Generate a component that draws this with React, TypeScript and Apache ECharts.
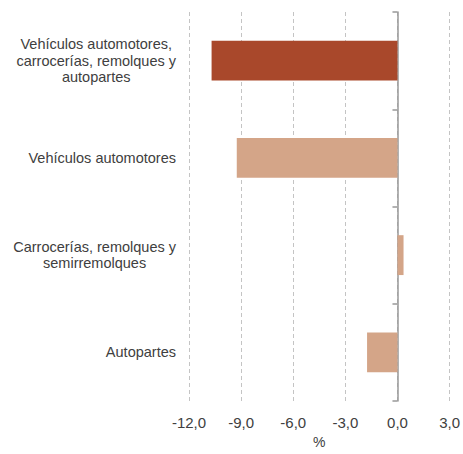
import React, { useEffect, useRef } from "react";
import * as echarts from "echarts";

const categories = [
  "Vehículos automotores,\ncarrocerías, remolques y\nautopartes",
  "Vehículos automotores",
  "Carrocerías, remolques y\nsemirremolques",
  "Autopartes",
];
const values = [-10.7, -9.25, 0.35, -1.75];
const barColors = ["#A9482B", "#D4A588", "#D4A588", "#D4A588"];
const xTicks = { min: -12, max: 3, interval: 3 };

export default function App() {
  const ref = useRef<HTMLDivElement>(null);
  useEffect(() => {
    if (!ref.current) return;
    const chart = echarts.init(ref.current, null, { renderer: "svg" });
    const font = "'Liberation Sans', Arial, Helvetica, sans-serif";
    const labelSize = 14.5;
    const gridLeft = 189;
    const labelRight = gridLeft - 13;
    chart.setOption({
      animation: false,
      grid: { left: gridLeft, right: 8, top: 12, bottom: 44, containLabel: false },
      xAxis: {
        type: "value",
        min: xTicks.min,
        max: xTicks.max,
        interval: xTicks.interval,
        name: "%",
        nameLocation: "middle",
        nameGap: 34,
        nameTextStyle: { color: "#404040", fontSize: 14, fontFamily: font },
        axisLine: { show: false },
        axisTick: { show: false },
        axisLabel: {
          color: "#404040",
          fontSize: 15,
          fontFamily: font,
          margin: 14,
          formatter: (v: number) => v.toFixed(1).replace(".", ","),
        },
        splitLine: {
          show: true,
          lineStyle: { color: "#c4c4c4", type: [4, 3], width: 1 },
        },
      },
      yAxis: [
        {
          type: "category",
          data: categories,
          inverse: true,
          axisLine: { show: false, onZero: false },
          axisTick: { show: false },
          axisLabel: { show: false },
        },
        {
          type: "category",
          data: categories,
          inverse: true,
          position: "left",
          axisLine: { show: true, onZero: true, lineStyle: { color: "#999999", width: 1.5 } },
          axisTick: { show: true, length: 5, lineStyle: { color: "#999999", width: 1.5 } },
          axisLabel: { show: false },
          splitLine: { show: false },
        },
      ],
      series: [
        {
          type: "bar",
          yAxisIndex: 0,
          data: values.map((v, i) => ({ value: v, itemStyle: { color: barColors[i] } })),
          barWidth: "41%",
          z: 1,
        },
      ],
    });

    // Category labels: each block right-aligned to the grid, its lines centred.
    const canvas = document.createElement("canvas");
    const ctx = canvas.getContext("2d")!;
    ctx.font = `${labelSize}px ${font}`;
    const elements = categories.map((c) => {
      const lines = c.split("\n");
      const w = Math.max(...lines.map((l) => ctx.measureText(l).width));
      const y = chart.convertToPixel({ yAxisIndex: 0 }, c) as number;
      return {
        type: "text",
        x: labelRight - w / 2,
        y,
        style: {
          text: c,
          align: "center",
          verticalAlign: "middle",
          fill: "#404040",
          fontSize: labelSize,
          fontFamily: font,
          lineHeight: 16.5,
        },
      };
    });
    chart.setOption({ graphic: { elements } });
    return () => chart.dispose();
  }, []);
  return (
    <div
      ref={ref}
      style={{ position: "absolute", left: 0, top: 0, width: 463, height: 454 }}
    />
  );
}
